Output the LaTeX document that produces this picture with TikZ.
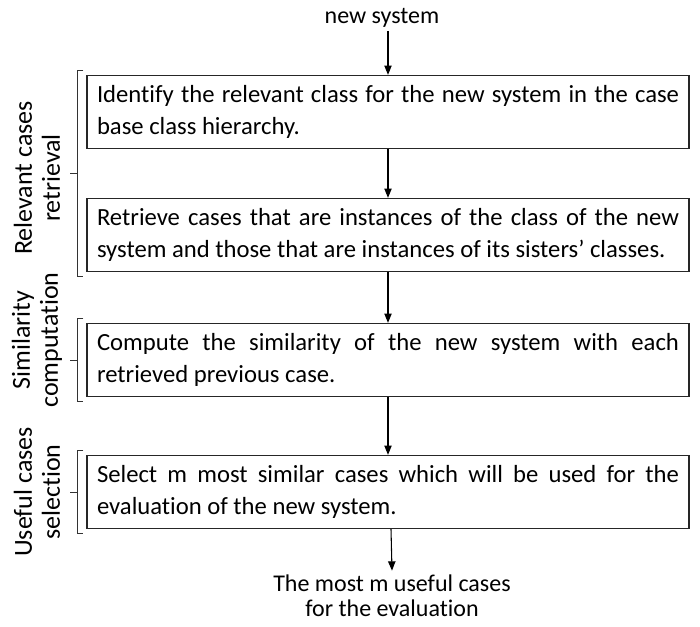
\documentclass[tikz,border=0pt]{standalone}
\usepackage{fontspec}
\setmainfont{Carlito}[Ligatures=NoCommon]
\usetikzlibrary{arrows.meta,calc}
\hyphenpenalty=10000
\exhyphenpenalty=10000
\begin{document}
\begin{tikzpicture}[x=0.75pt,y=-0.75pt,
  stepbox/.style={draw=black!85,line width=1pt,minimum width=602*0.75pt,minimum height=73*0.75pt,
    text width=582*0.75pt,align=justify,inner sep=0pt,
    font=\fontsize{18.5}{24}\selectfont},
  plain/.style={inner sep=0pt,align=center,font=\fontsize{18}{19}\selectfont},
  sidelabel/.style={inner sep=0pt,align=center,rotate=90,font=\fontsize{19.5}{21}\selectfont},
  flow/.style={line width=0.8pt,-{Triangle[length=7pt,width=5.5pt]}},
  brace/.style={line width=0.7pt,black!80}]
\useasboundingbox (0,0) rectangle (700,626);
\node[plain] (new) at (382,18) {new system};
\node[stepbox] (b1) at (388,112) {Identify the relevant class for the new system in the case base class hierarchy.};
\node[stepbox] (b2) at (388,235) {Retrieve cases that are instances of the class of the new system and those that are instances of its sisters’ classes.};
\node[stepbox] (b3) at (388,360) {Compute the similarity of the new system with each retrieved previous case.};
\node[stepbox] (b4) at (388,492) {Select m most similar cases which will be used for the evaluation of the new system.};
\node[plain] (out) at (392,596) {The most m useful cases\\for the evaluation};
\coordinate (s0) at ($(b1.north)+(0,-44)$);
\draw[flow] (s0) -- (b1.north);
\draw[flow] (b1.south) -- (b2.north);
\draw[flow] (b2.south) -- (b3.north);
\draw[flow] (b3.south) -- (b4.north);
\draw[flow] ($(b4.south)+(3,0)$) -- ($(out.north)+(0,-4)$);
% brackets
\draw[brace] ($(b1.north west)+(-3,-4)$) -- ($(b1.north west)+(-9,-4)$) -- ($(b2.south west)+(-9,4)$) -- ($(b2.south west)+(-3,4)$);
\draw[brace] ($(b1.north west)!0.5!(b2.south west)+(-9,0)$) -- ++(-7,0);
\draw[brace] ($(b3.north west)+(-3,-4)$) -- ($(b3.north west)+(-9,-4)$) -- ($(b3.south west)+(-9,4)$) -- ($(b3.south west)+(-3,4)$);
\draw[brace] ($(b3.west)+(-9,0)$) -- ++(-7,0);
\draw[brace] ($(b4.north west)+(-3,-4)$) -- ($(b4.north west)+(-9,-4)$) -- ($(b4.south west)+(-9,4)$) -- ($(b4.south west)+(-3,4)$);
\draw[brace] ($(b4.west)+(-9,0)$) -- ++(-7,0);
\node[sidelabel] (l1) at (37,178) {Relevant cases\\retrieval};
\node[sidelabel] (l2) at (37,340) {Similarity\\computation};
\node[sidelabel] (l3) at (37,492) {Useful cases\\selection};
\end{tikzpicture}
\end{document}
